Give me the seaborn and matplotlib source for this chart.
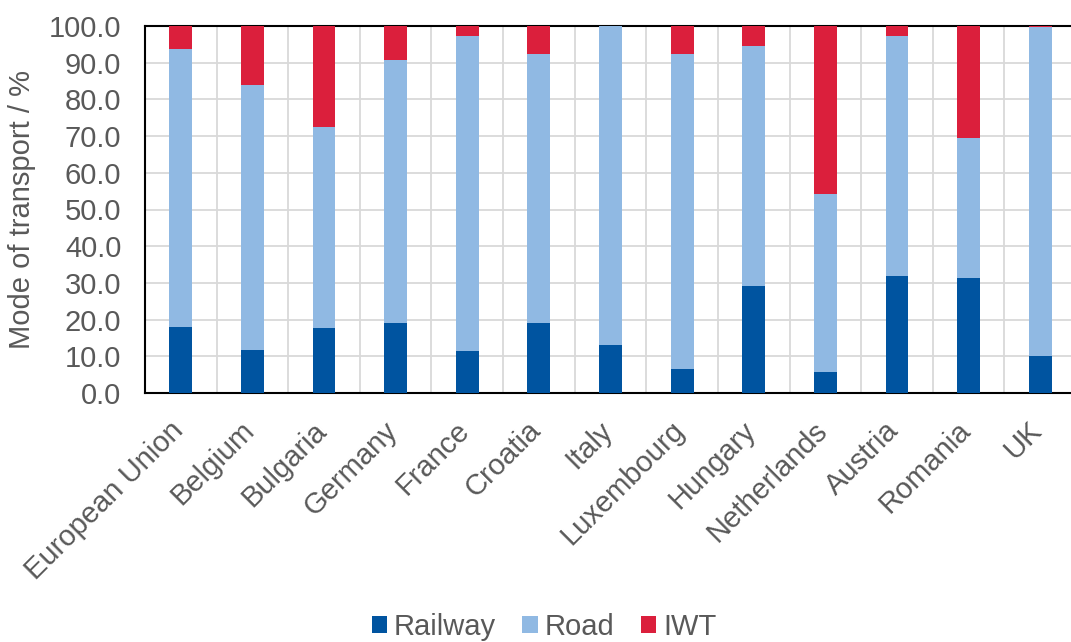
import matplotlib
matplotlib.use("Agg")
import matplotlib.pyplot as plt
import matplotlib.transforms as mtransforms
from matplotlib.patches import Patch
from matplotlib.ticker import MultipleLocator, FormatStrFormatter
import seaborn as sns
import pandas as pd
import numpy as np

# Modal split of inland freight transport, % of tonne-km
countries = ["European Union", "Belgium", "Bulgaria", "Germany", "France", "Croatia",
             "Italy", "Luxembourg", "Hungary", "Netherlands", "Austria", "Romania", "UK"]
railway = [18.0, 11.6, 17.6, 19.2, 11.4, 19.0, 13.2, 6.6, 29.2, 5.8, 31.9, 31.3, 10.1]
road = [75.6, 72.4, 54.9, 71.6, 85.8, 73.3, 86.7, 85.8, 65.3, 48.3, 65.3, 38.2, 89.7]
iwt = [6.4, 16.0, 27.5, 9.2, 2.8, 7.7, 0.1, 7.6, 5.5, 45.9, 2.8, 30.5, 0.2]
modes = ["Railway", "Road", "IWT"]

colors = {"Railway": "#0054A0", "Road": "#90B9E3", "IWT": "#DB1F3C"}
text_color = "#595959"
grid_color = "#D9D9D9"
fs = 21

sns.set_theme(style="white")
plt.rcParams["font.family"] = ["Liberation Sans", "DejaVu Sans"]

df = pd.DataFrame({"country": countries, "Railway": railway, "Road": road, "IWT": iwt})
df["rail_top"] = df["Railway"]
df["road_top"] = df["Railway"] + df["Road"]
df["iwt_top"] = df["road_top"] + df["IWT"]

fig = plt.figure(figsize=(10.71, 6.42), dpi=100)
ax = fig.add_axes([145 / 1071, (642 - 393) / 642, (1076 - 145) / 1071, 367 / 642])

# stacked bars drawn as cumulative layers, tallest first
bar_w = 0.32
for col, mode in [("iwt_top", "IWT"), ("road_top", "Road"), ("rail_top", "Railway")]:
    sns.barplot(data=df, x="country", y=col, color=colors[mode], width=bar_w,
                saturation=1, linewidth=0, ax=ax, zorder=3)

ax.set_xlim(-0.5, 12.5)
ax.set_ylim(0, 100)
ax.yaxis.set_major_locator(MultipleLocator(10))
ax.yaxis.set_major_formatter(FormatStrFormatter("%.1f"))
ax.set_xticks(np.arange(-0.5, 13, 1), minor=True)
ax.grid(axis="y", which="major", color=grid_color, linewidth=1.3, zorder=0)
ax.grid(axis="x", which="minor", color=grid_color, linewidth=1.3, zorder=0)
ax.set_axisbelow(True)

for side in ["top", "bottom", "left"]:
    ax.spines[side].set_color("black")
    ax.spines[side].set_linewidth(1.5)
ax.spines["right"].set_visible(False)

ax.tick_params(axis="y", length=0, pad=17, labelsize=fs, labelcolor=text_color)
ax.tick_params(axis="x", which="both", length=0, pad=8, labelsize=fs, labelcolor=text_color)
shift = mtransforms.ScaledTranslation(-0.12, -0.12, fig.dpi_scale_trans)
for lbl in ax.get_xticklabels():
    lbl.set_rotation(45)
    lbl.set_ha("right")
    lbl.set_rotation_mode("anchor")
    lbl.set_transform(lbl.get_transform() + shift)

ax.set_xlabel("")
ax.set_ylabel("Mode of transport / %", fontsize=fs, color=text_color, labelpad=9)

handles = [Patch(facecolor=colors[m], edgecolor="none", label=m) for m in modes]
leg = fig.legend(handles=handles, loc="center", bbox_to_anchor=(544 / 1071, 1 - 627 / 642),
                 ncol=3, frameon=False, fontsize=fs, handlelength=0.52, handleheight=0.52,
                 handletextpad=0.25, columnspacing=0.9)
for t in leg.get_texts():
    t.set_color(text_color)

fig.savefig("out.png", dpi=100)
